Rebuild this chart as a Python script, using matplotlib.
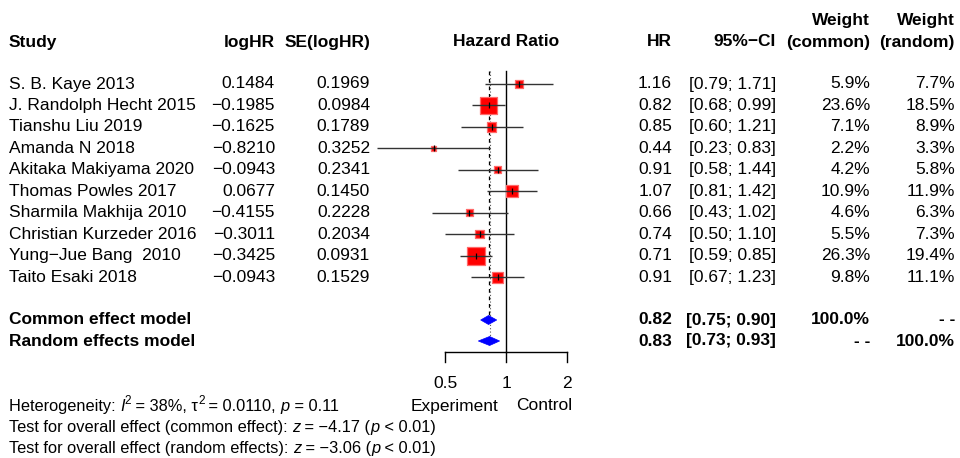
import numpy as np
import matplotlib
matplotlib.use("Agg")
import matplotlib.pyplot as plt
from matplotlib.transforms import offset_copy

plt.rcParams['font.family'] = ['Liberation Sans', 'DejaVu Sans']

studies = ["S. B. Kaye 2013", "J. Randolph Hecht 2015", "Tianshu Liu 2019", "Amanda N 2018",
           "Akitaka Makiyama 2020", "Thomas Powles 2017", "Sharmila Makhija 2010",
           "Christian Kurzeder 2016", "Yung\u2212Jue Bang  2010", "Taito Esaki 2018"]
log_hr = ["0.1484", "\u22120.1985", "\u22120.1625", "\u22120.8210", "\u22120.0943", "0.0677",
          "\u22120.4155", "\u22120.3011", "\u22120.3425", "\u22120.0943"]
se_log_hr = ["0.1969", "0.0984", "0.1789", "0.3252", "0.2341", "0.1450", "0.2228", "0.2034",
             "0.0931", "0.1529"]
hr = [1.16, 0.82, 0.85, 0.44, 0.91, 1.07, 0.66, 0.74, 0.71, 0.91]
ci_low = [0.79, 0.68, 0.60, 0.23, 0.58, 0.81, 0.43, 0.50, 0.59, 0.67]
ci_high = [1.71, 0.99, 1.21, 0.83, 1.44, 1.42, 1.02, 1.10, 0.85, 1.23]
w_common = [5.9, 23.6, 7.1, 2.2, 4.2, 10.9, 4.6, 5.5, 26.3, 9.8]
w_random = [7.7, 18.5, 8.9, 3.3, 5.8, 11.9, 6.3, 7.3, 19.4, 11.1]

models = ["Common effect model", "Random effects model"]
model_hr = [0.82, 0.83]
model_low = [0.75, 0.73]
model_high = [0.90, 0.93]
model_w_common = ["100.0%", "- -"]
model_w_random = ["- -", "100.0%"]

axis_ticks = [0.5, 1, 2]
axis_ticklabels = ["0.5", "1", "2"]

# (text, style) pieces: n = normal, i = italic, s = superscript
het_lines = [
    [("Heterogeneity: ", "n"), ("I", "i"), ("2", "s"), (" = 38%, \u03c4", "n"), ("2", "s"),
     (" = 0.0110, ", "n"), ("p", "i"), (" = 0.11", "n")],
    [("Test for overall effect (common effect): ", "n"), ("z", "i"), (" = \u22124.17 (", "n"),
     ("p", "i"), (" < 0.01)", "n")],
    [("Test for overall effect (random effects): ", "n"), ("z", "i"), (" = \u22123.06 (", "n"),
     ("p", "i"), (" < 0.01)", "n")],
]

W, H = 960, 458
fig = plt.figure(figsize=(W / 100, H / 100), dpi=100)
fs = 12.5
fs_het = 11.8

tx = fig.add_axes([0, 0, 1, 1])
tx.set_xlim(0, W)
tx.set_ylim(H, 0)
tx.axis('off')

px_per_ln = 88.0
x_ref = 506.0
fx0, fx1 = 340.0, 640.0
fa = fig.add_axes([fx0 / W, 0, (fx1 - fx0) / W, 1])
fa.set_xscale('log')
fa.set_xlim(np.exp((fx0 - x_ref) / px_per_ln), np.exp((fx1 - x_ref) / px_per_ln))
fa.set_ylim(H, 0)
fa.axis('off')
fa.patch.set_alpha(0)

row0, rowh = 84.0, 21.45
rows = [row0 + i * rowh for i in range(len(studies))]
mrows = [320.0, 341.0]

x_study, x_log, x_se, x_hr, x_ci, x_wc, x_wr = 9, 275, 370, 672, 776, 870, 955

hy = 42
B = dict(fontsize=fs, fontweight='bold', va='center')
tx.text(x_study, hy, "Study", ha='left', **B)
tx.text(x_log, hy, "logHR", ha='right', **B)
tx.text(x_se, hy, "SE(logHR)", ha='right', **B)
tx.text(x_ref, hy, "Hazard Ratio", ha='center', **B)
tx.text(x_hr, hy, "HR", ha='right', **B)
tx.text(x_ci, hy, "95%\u2212CI", ha='right', **B)
tx.text(x_wc, 20, "Weight", ha='right', **B)
tx.text(x_wc, hy, "(common)", ha='right', **B)
tx.text(x_wr, 20, "Weight", ha='right', **B)
tx.text(x_wr, hy, "(random)", ha='right', **B)

def fmt(v):
    return f"{v:.2f}"

N = dict(fontsize=fs, va='center')
for i, y in enumerate(rows):
    tx.text(x_study, y, studies[i], ha='left', **N)
    tx.text(x_log, y, log_hr[i], ha='right', **N)
    tx.text(x_se, y, se_log_hr[i], ha='right', **N)
    tx.text(x_hr, y, fmt(hr[i]), ha='right', **N)
    tx.text(x_ci, y, f"[{fmt(ci_low[i])}; {fmt(ci_high[i])}]", ha='right', **N)
    tx.text(x_wc, y, f"{w_common[i]:.1f}%", ha='right', **N)
    tx.text(x_wr, y, f"{w_random[i]:.1f}%", ha='right', **N)

for j, y in enumerate(mrows):
    tx.text(x_study, y, models[j], ha='left', **B)
    tx.text(x_hr, y, fmt(model_hr[j]), ha='right', **B)
    tx.text(x_ci, y, f"[{fmt(model_low[j])}; {fmt(model_high[j])}]", ha='right', **B)
    tx.text(x_wc, y, model_w_common[j], ha='right', **B)
    tx.text(x_wr, y, model_w_random[j], ha='right', **B)

renderer = fig.canvas.get_renderer()
for k, pieces in enumerate(het_lines):
    y = 406 + k * 21
    xoff = 0.0
    for txt, st in pieces:
        kw = dict(ha='left', va='baseline', fontsize=fs_het)
        dy = 5.0
        if st == 'i':
            kw['fontstyle'] = 'italic'
        if st == 's':
            kw['fontsize'] = fs_het * 0.72
            dy = -1.5
        trans = offset_copy(tx.transData, fig=fig, x=xoff, y=-dy, units='dots')
        t = tx.text(x_study, y, txt, transform=trans, **kw)
        bb = t.get_window_extent(renderer=renderer)
        xoff += bb.width

top = 71
fa.plot([1, 1], [top, 352], color='black', lw=1.0, zorder=1)
fa.plot([model_hr[0]] * 2, [top, mrows[0] - 5], color='black', lw=0.9, ls=(0, (3, 3)), zorder=1)
fa.plot([model_hr[1]] * 2, [top, mrows[1] - 5], color='#555555', lw=0.8, ls=(0, (1, 2)), zorder=1)

sides_pt = [3.5 * np.sqrt(w) * 0.72 for w in w_common]
fa.scatter(hr, rows, s=[s ** 2 for s in sides_pt], marker='s', color='red',
           edgecolors='#ff6a6a', linewidths=0.9, zorder=3)
for i, y in enumerate(rows):
    fa.plot([ci_low[i], ci_high[i]], [y, y], color='#333333', lw=1.0, zorder=4,
            solid_capstyle='butt')
fa.scatter(hr, rows, s=14, marker='|', color='black', linewidths=0.9, zorder=5)

dh = 4.5
for j, y in enumerate(mrows):
    fa.fill([model_low[j], model_hr[j], model_high[j], model_hr[j]],
            [y, y - dh, y, y + dh], color='blue', lw=0.5, zorder=3)

ay = 352
fa.plot([axis_ticks[0], axis_ticks[-1]], [ay, ay], color='black', lw=1.0)
for t, lab in zip(axis_ticks, axis_ticklabels):
    fa.plot([t, t], [ay, ay + 10], color='black', lw=1.0)
    fa.text(t, 383, lab, ha='center', va='center', fontsize=fs)
fa.annotate("Experiment", xy=(1, 406), xytext=(-8, 0), textcoords='offset pixels',
            ha='right', va='center', fontsize=fs)
fa.annotate("Control", xy=(1, 406), xytext=(10, 0), textcoords='offset pixels',
            ha='left', va='center', fontsize=fs)

fig.savefig("out.png", dpi=100)
